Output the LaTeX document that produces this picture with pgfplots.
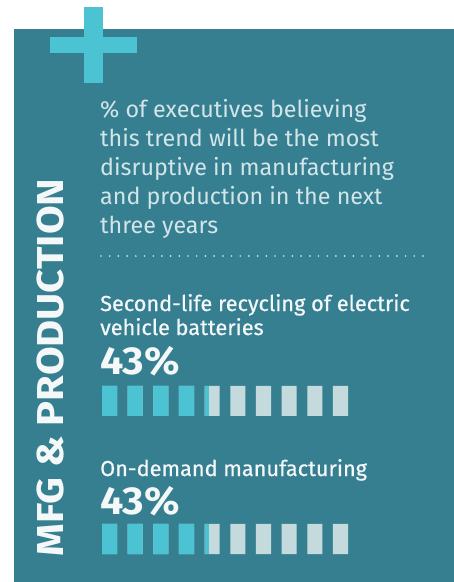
\documentclass[border=0pt]{standalone}
\usepackage{pgfplots}
\pgfplotsset{compat=1.18}
\usepackage{fontspec}
\setmainfont{Fira Sans}
\newfontfamily\medfont{Fira Sans}[FakeBold=0.6]
\definecolor{panel}{HTML}{367F91}
\definecolor{cyanbar}{HTML}{4CC3D2}
\definecolor{lightbar}{HTML}{C4DADD}
\definecolor{desc}{HTML}{D2E5E8}
\definecolor{titletxt}{HTML}{F4F8F9}

% segment positions (10 segments of 10% each) and the filled share (43% -> 4.3 segments)
\pgfplotstableread{
x y
0.2925 1
1.2925 1
2.2925 1
3.2925 1
4.2925 1
5.2925 1
6.2925 1
7.2925 1
8.2925 1
9.2925 1
}\segall
\pgfplotstableread{
x y
0.2925 1
1.2925 1
2.2925 1
3.2925 1
}\segfullA
\pgfplotstableread{
x y
0.2925 1
1.2925 1
2.2925 1
3.2925 1
}\segfullB

\pgfplotsset{barrow/.style={
  hide axis, scale only axis, width=246bp, height=30bp,
  xmin=0, xmax=9.585, ymin=0, ymax=1, anchor=south west,
  clip=false}}

\begin{document}
\begin{tikzpicture}
\useasboundingbox (0,0) rectangle (454bp,582bp);
\begin{axis}[hide axis, scale only axis, width=454bp, height=582bp,
  xmin=0, xmax=454, ymin=0, ymax=582, y dir=reverse,
  anchor=south west, at={(0,0)}, clip=false]
  \fill[panel] (axis cs:14,29) rectangle (axis cs:454,582);
  \fill[cyanbar] (axis cs:84,7) rectangle (axis cs:103,83);
  \fill[cyanbar] (axis cs:50,37) rectangle (axis cs:137,53);
  \node[rotate=90, anchor=base, text=titletxt, inner sep=0pt,
        font=\bfseries\fontsize{37.5bp}{40bp}\selectfont\addfontfeature{FakeStretch=1.11}] at (axis cs:63,367.5) {MFG \& PRODUCTION};
  \node[anchor=base west, inner sep=0pt, text=desc, font=\fontsize{23.3bp}{29bp}\selectfont] at (axis cs:100,117) {\% of executives believing};
  \node[anchor=base west, inner sep=0pt, text=desc, font=\fontsize{23.3bp}{29bp}\selectfont] at (axis cs:100,146) {this trend will be the most};
  \node[anchor=base west, inner sep=0pt, text=desc, font=\fontsize{23.3bp}{29bp}\selectfont] at (axis cs:100,175) {disruptive in manufacturing};
  \node[anchor=base west, inner sep=0pt, text=desc, font=\fontsize{23.3bp}{29bp}\selectfont] at (axis cs:100,204) {and production in the next};
  \node[anchor=base west, inner sep=0pt, text=desc, font=\fontsize{23.3bp}{29bp}\selectfont] at (axis cs:100,233) {three years};
  \draw[desc, line width=1.9bp, line cap=round, dash pattern=on 0pt off 8.7bp] (axis cs:101,256) -- (axis cs:424,256);
  \node[anchor=base west, inner sep=0pt, text=titletxt, font=\medfont\fontsize{21.7bp}{24bp}\selectfont] at (axis cs:100,311) {Second-life recycling of electric};
  \node[anchor=base west, inner sep=0pt, text=titletxt, font=\medfont\fontsize{21.7bp}{24bp}\selectfont] at (axis cs:100,335) {vehicle batteries};
  \node[anchor=base west, inner sep=0pt, text=titletxt, font=\bfseries\fontsize{39bp}{40bp}\selectfont\addfontfeature{FakeStretch=1.06}] at (axis cs:100,374) {43\%};
  \node[anchor=base west, inner sep=0pt, text=titletxt, font=\medfont\fontsize{21.7bp}{24bp}\selectfont] at (axis cs:100,476) {On-demand manufacturing};
  \node[anchor=base west, inner sep=0pt, text=titletxt, font=\bfseries\fontsize{39bp}{40bp}\selectfont\addfontfeature{FakeStretch=1.06}] at (axis cs:100,514) {43\%};
\end{axis}
% Row 1: Second-life recycling of electric vehicle batteries, 43%
\begin{axis}[barrow, at={(102bp,166bp)}]
  \addplot[ybar, bar width=0.585, bar shift=0pt, fill=lightbar, draw=none] table {\segall};
  \addplot[ybar, bar width=0.585, bar shift=0pt, fill=cyanbar, draw=none] table {\segfullA};
  \addplot[ybar, bar width=0.1755, bar shift=0pt, fill=cyanbar, draw=none] coordinates {(4.08775,1)};
\end{axis}
% Row 2: On-demand manufacturing, 43%
\begin{axis}[barrow, at={(102bp,28bp)}]
  \addplot[ybar, bar width=0.585, bar shift=0pt, fill=lightbar, draw=none] table {\segall};
  \addplot[ybar, bar width=0.585, bar shift=0pt, fill=cyanbar, draw=none] table {\segfullB};
  \addplot[ybar, bar width=0.1755, bar shift=0pt, fill=cyanbar, draw=none] coordinates {(4.08775,1)};
\end{axis}
\end{tikzpicture}
\end{document}
